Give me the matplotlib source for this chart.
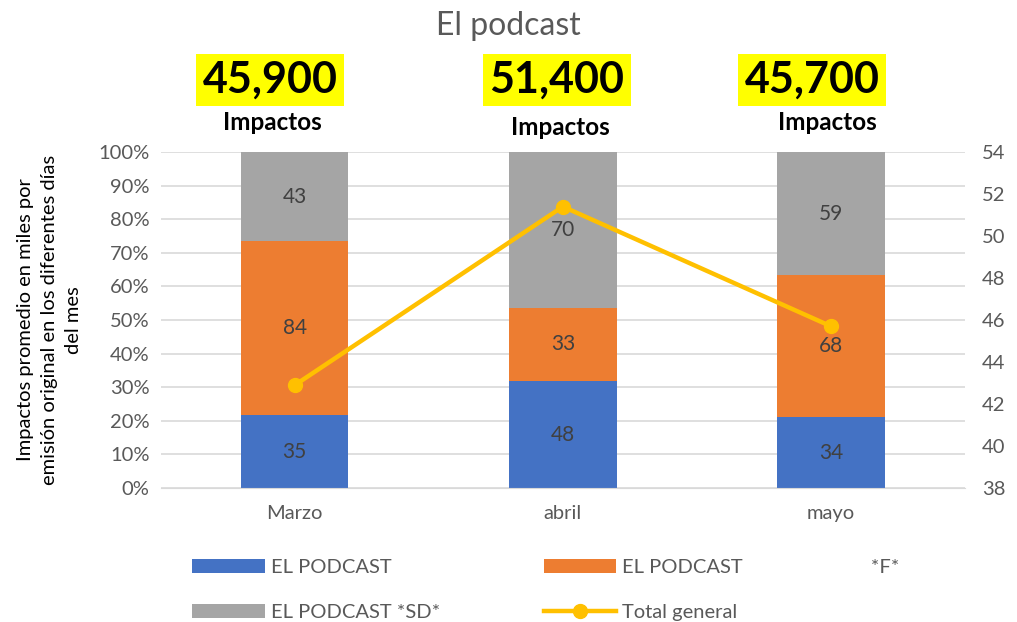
import numpy as np
import matplotlib.pyplot as plt
from matplotlib.ticker import PercentFormatter

plt.rcParams['font.family'] = ['Lato', 'DejaVu Sans']

meses = ['Marzo', 'abril', 'mayo']
ep_base = [35, 48, 34]
ep_f = [84, 33, 68]
ep_sd = [43, 70, 59]
total_general = [42.9, 51.4, 45.7]
impactos = ['45,900', '51,400', '45,700']

labels = ['EL PODCAST', 'EL PODCAST                         *F*', 'EL PODCAST *SD*', 'Total general']
colores = ['#4472C4', '#ED7D31', '#A5A5A5']
gris = '#595959'

fig = plt.figure(figsize=(10.17, 6.22), dpi=100)
ax = fig.add_axes([0.158, 0.2154, 0.791, 0.5402])
ax2 = ax.twinx()

series = np.array([ep_base, ep_f, ep_sd], dtype=float)
pct = series / series.sum(axis=0)
x = np.arange(len(meses))
bottom = np.zeros(len(meses))
handles = []
for i in range(3):
    b = ax.bar(x, pct[i], 0.4, bottom=bottom, color=colores[i], label=labels[i], zorder=2)
    handles.append(b)
    for xi, yb, h, v in zip(x, bottom, pct[i], series[i]):
        ax.text(xi, yb + h / 2, '%d' % v, ha='center', va='center', fontsize=15, color='#404040', zorder=3)
    bottom += pct[i]

ln, = ax2.plot(x, total_general, color='#FFC000', lw=3.2, marker='o', markersize=10, label=labels[3])
handles.append(ln)

ax.set_xlim(-0.5, 2.5)
ax.set_ylim(0, 1)
ax.set_yticks(np.arange(0, 1.01, 0.1))
ax.yaxis.set_major_formatter(PercentFormatter(1.0, decimals=0))
ax.grid(axis='y', color='#D9D9D9', lw=1.2, zorder=0)
ax.set_axisbelow(True)
ax.set_xticks(x)
ax.set_xticklabels(meses)
ax2.set_ylim(38, 54)
ax2.set_yticks(np.arange(38, 55, 2))

for a in (ax, ax2):
    for s in a.spines.values():
        s.set_visible(False)
    a.tick_params(length=0, labelsize=14.5, colors=gris, pad=8)
ax.spines['bottom'].set_visible(True)
ax.spines['bottom'].set_color('#D9D9D9')
ax.tick_params(axis='x', pad=12)
ax2.tick_params(axis='y', pad=12)

ax.set_ylabel('Impactos promedio en miles por\nemisión original en los diferentes días\ndel mes',
              fontsize=14.5, color='black', labelpad=12, linespacing=1.5)

fig.text(0.5, 0.958, 'El podcast', ha='center', va='center', fontsize=23, color=gris)

num_x = [270, 557, 812]
imp_x = [272, 560, 827]
imp_y = [122, 127, 122]
for nx, ix, iy, t in zip(num_x, imp_x, imp_y, impactos):
    fig.text(nx / 1017, 1 - 80 / 622, t, ha='center', va='center', fontsize=31, fontweight='bold',
             color='black', bbox=dict(facecolor='#FFFF00', edgecolor='none', pad=4.5))
    fig.text(ix / 1017, 1 - iy / 622, 'Impactos', ha='center', va='center', fontsize=17.5,
             fontweight='bold', color='black')

orden = [handles[0], handles[2], handles[1], handles[3]]
orden_labels = [labels[0], labels[2], labels[1], labels[3]]
leg = fig.legend(handles=orden, labels=orden_labels, ncol=2, loc='upper left',
                 bbox_to_anchor=(0.171, 0.13), frameon=False, fontsize=14.5,
                 labelcolor=gris, columnspacing=5.15, handlelength=3.6, handletextpad=0.3,
                 labelspacing=1.35)

fig.savefig('out.png', dpi=100)
